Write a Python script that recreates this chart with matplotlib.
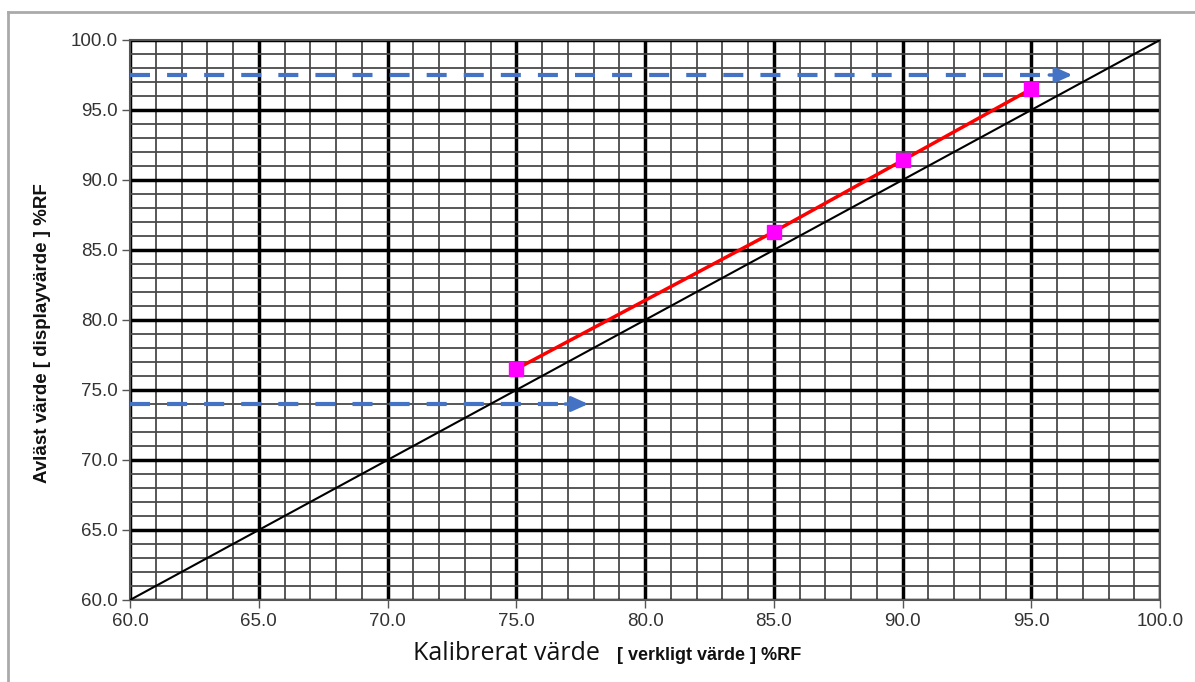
import matplotlib
matplotlib.use("Agg")
import matplotlib.pyplot as plt
import numpy as np
from matplotlib.lines import Line2D

# Data
x_cal = [75.0, 85.0, 90.0, 95.0]
y_disp = [76.5, 86.3, 91.4, 96.5]
ref_x = [60.0, 100.0]
ref_y = [60.0, 100.0]
major_ticks = [60.0, 65.0, 70.0, 75.0, 80.0, 85.0, 90.0, 95.0, 100.0]
tick_labels = ["60.0", "65.0", "70.0", "75.0", "80.0", "85.0", "90.0", "95.0", "100.0"]
arrow_top = (97.5, 96.6)     # y level, x tip
arrow_bottom = (74.0, 77.8)  # y level, x tip

fig = plt.figure(figsize=(11.95, 6.82), dpi=100)
ax = fig.add_axes([130/1195, 82/682, 1030/1195, 560/682])
ax.set_xlim(60, 100)
ax.set_ylim(60, 100)

# grid
ax.set_xticks(major_ticks)
ax.set_yticks(major_ticks)
ax.set_xticklabels(tick_labels)
ax.set_yticklabels(tick_labels)
ax.set_xticks(np.arange(60, 100.01, 1.0), minor=True)
ax.set_yticks(np.arange(60, 100.01, 1.0), minor=True)
ax.grid(which="minor", color="#4a4a4a", linewidth=1.3, zorder=0)
ax.grid(which="major", color="black", linewidth=2.5, zorder=0)
ax.set_axisbelow(True)
ax.tick_params(which="minor", length=0)
ax.tick_params(which="major", direction="out", length=6, width=1.0, color="#555555",
               labelsize=13.5, labelcolor="#333333", pad=3)
for lab in ax.get_xticklabels() + ax.get_yticklabels():
    lab.set_fontfamily("Liberation Sans")
for s in ax.spines.values():
    s.set_color("#555555")
    s.set_linewidth(1.5)

# reference line
ax.plot(ref_x, ref_y, color="black", linewidth=1.5, zorder=3)
# measurement line
ax.plot(x_cal, y_disp, color="#ff0000", linewidth=2.5, zorder=4)
ax.plot(x_cal, y_disp, linestyle="none", marker="s", markersize=10,
        markerfacecolor="#ff00ff", markeredgecolor="#ff00ff", zorder=5)

# blue dashed arrows
blue = "#4472C4"
for (yy, xt) in [arrow_top, arrow_bottom]:
    ax.plot([60, xt - 0.6], [yy, yy], color=blue, linewidth=3.0,
            dashes=(4.8, 4.1), solid_capstyle="butt", dash_capstyle="butt", zorder=6, clip_on=False)
    ax.annotate("", xy=(xt, yy), xytext=(xt - 0.9, yy),
                arrowprops=dict(arrowstyle="-|>,head_length=1.0,head_width=0.45",
                                color=blue, lw=2.5, shrinkA=0, shrinkB=0),
                zorder=7, annotation_clip=False)

# axis labels
fig.text(600/1195, 1 - 660/682, "Kalibrerat värde", ha="right", va="baseline",
         fontsize=18, family="Open Sans", color="#111111")
fig.text(617/1195, 1 - 660/682, "[ verkligt värde ] %RF", ha="left", va="baseline",
         fontsize=13, family="Liberation Sans", fontweight="bold", color="#111111")
fig.text(43/1195, 1 - 333/682, "Avläst värde [ displayvärde ] %RF", rotation=90,
         ha="center", va="center", fontsize=13.5, family="Liberation Sans",
         fontweight="bold", color="#111111")

# outer border
fig.add_artist(Line2D([8/1195, 8/1195], [0, 1 - 12/682], transform=fig.transFigure,
                      color="#aaaaaa", linewidth=2))
fig.add_artist(Line2D([8/1195, 1], [1 - 12/682, 1 - 12/682], transform=fig.transFigure,
                      color="#aaaaaa", linewidth=2))

fig.savefig("out.png", dpi=100)
